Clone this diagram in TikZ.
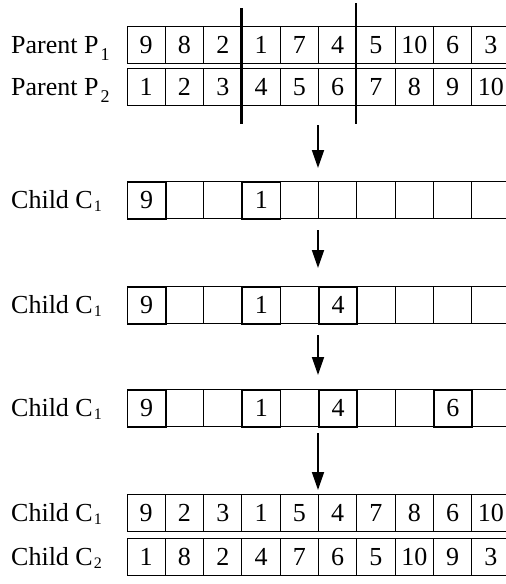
\documentclass[tikz,border=0pt]{standalone}
\usepackage{fontspec}
\setmainfont{Liberation Serif}
\usetikzlibrary{arrows.meta}

% subscripts of the row labels
\newcommand\parentsub[1]{\kern2pt\raisebox{-7pt}{\fontsize{18}{18}\selectfont #1}}
\newcommand\childsub[1]{\kern1pt\raisebox{-3pt}{\fontsize{16}{16}\selectfont #1}}

\tikzset{
  cell/.style={draw, line width=1pt, minimum width=38.3pt, minimum height=37pt,
               inner sep=0pt, anchor=north west, font=\fontsize{26}{30}\selectfont},
  kept/.style={cell, line width=1.7pt},
  lbl/.style={anchor=base west, inner sep=0pt, font=\fontsize{26}{30}\selectfont},
  cutline/.style={line width=2.2pt},
  flow/.style={line width=1.8pt, -{Triangle[length=18pt,width=12pt]}},
}

% one chromosome: #1 name, #2 top edge, #3 style of numbered genes, #4 genes
\newcommand\chromosome[4]{%
  \foreach \v [count=\i] in {#4} {%
    \ifx\v\empty\def\cellsty{cell}\else\def\cellsty{#3}\fi
    \node[\cellsty] (#1-\i) at ({126.5+(\i-1)*38.3}, #2) {\v};
  }%
}

\begin{document}
\begin{tikzpicture}[x={(1pt,0pt)}, y={(0pt,-1pt)}]
  \useasboundingbox (0,0) rectangle (506,584);

  % parents
  \chromosome{pa}{26}{cell}{9,8,2,1,7,4,5,10,6,3}
  \chromosome{pb}{68}{cell}{1,2,3,4,5,6,7,8,9,10}
  \node[lbl] (lpa) at (11,53.5) {Parent P\parentsub{1}};
  \node[lbl] (lpb) at (11,95.5) {Parent P\parentsub{2}};

  % cut points
  \coordinate (cut1top) at (241.4,8);
  \coordinate (cut1bot) at (241.4,124);
  \coordinate (cut2top) at (356.3,3);
  \coordinate (cut2bot) at (356.3,124);
  \draw[cutline] (cut1top) -- (cut1bot);
  \draw[cutline] (cut2top) -- (cut2bot);

  % child built step by step
  \chromosome{ca}{181}{kept}{9,,,1,,,,,,}
  \node[lbl] (lca) at (11,208.5) {Child C\childsub{1}};
  \chromosome{cb}{286}{kept}{9,,,1,,4,,,,}
  \node[lbl] (lcb) at (11,313.5) {Child C\childsub{1}};
  \chromosome{cc}{389}{kept}{9,,,1,,4,,,6,}
  \node[lbl] (lcc) at (11,416.5) {Child C\childsub{1}};

  % offspring
  \chromosome{cd}{494}{cell}{9,2,3,1,5,4,7,8,6,10}
  \chromosome{ce}{538}{cell}{1,8,2,4,7,6,5,10,9,3}
  \node[lbl] (lcd) at (11,521.5) {Child C\childsub{1}};
  \node[lbl] (lce) at (11,565.5) {Child C\childsub{2}};

  % steps
  \coordinate (s1a) at (318,125); \coordinate (s1b) at (318,168);
  \coordinate (s2a) at (318,230); \coordinate (s2b) at (318,268);
  \coordinate (s3a) at (318,335); \coordinate (s3b) at (318,375);
  \coordinate (s4a) at (318,433); \coordinate (s4b) at (318,490);
  \draw[flow] (s1a) -- (s1b);
  \draw[flow] (s2a) -- (s2b);
  \draw[flow] (s3a) -- (s3b);
  \draw[flow] (s4a) -- (s4b);
\end{tikzpicture}
\end{document}
